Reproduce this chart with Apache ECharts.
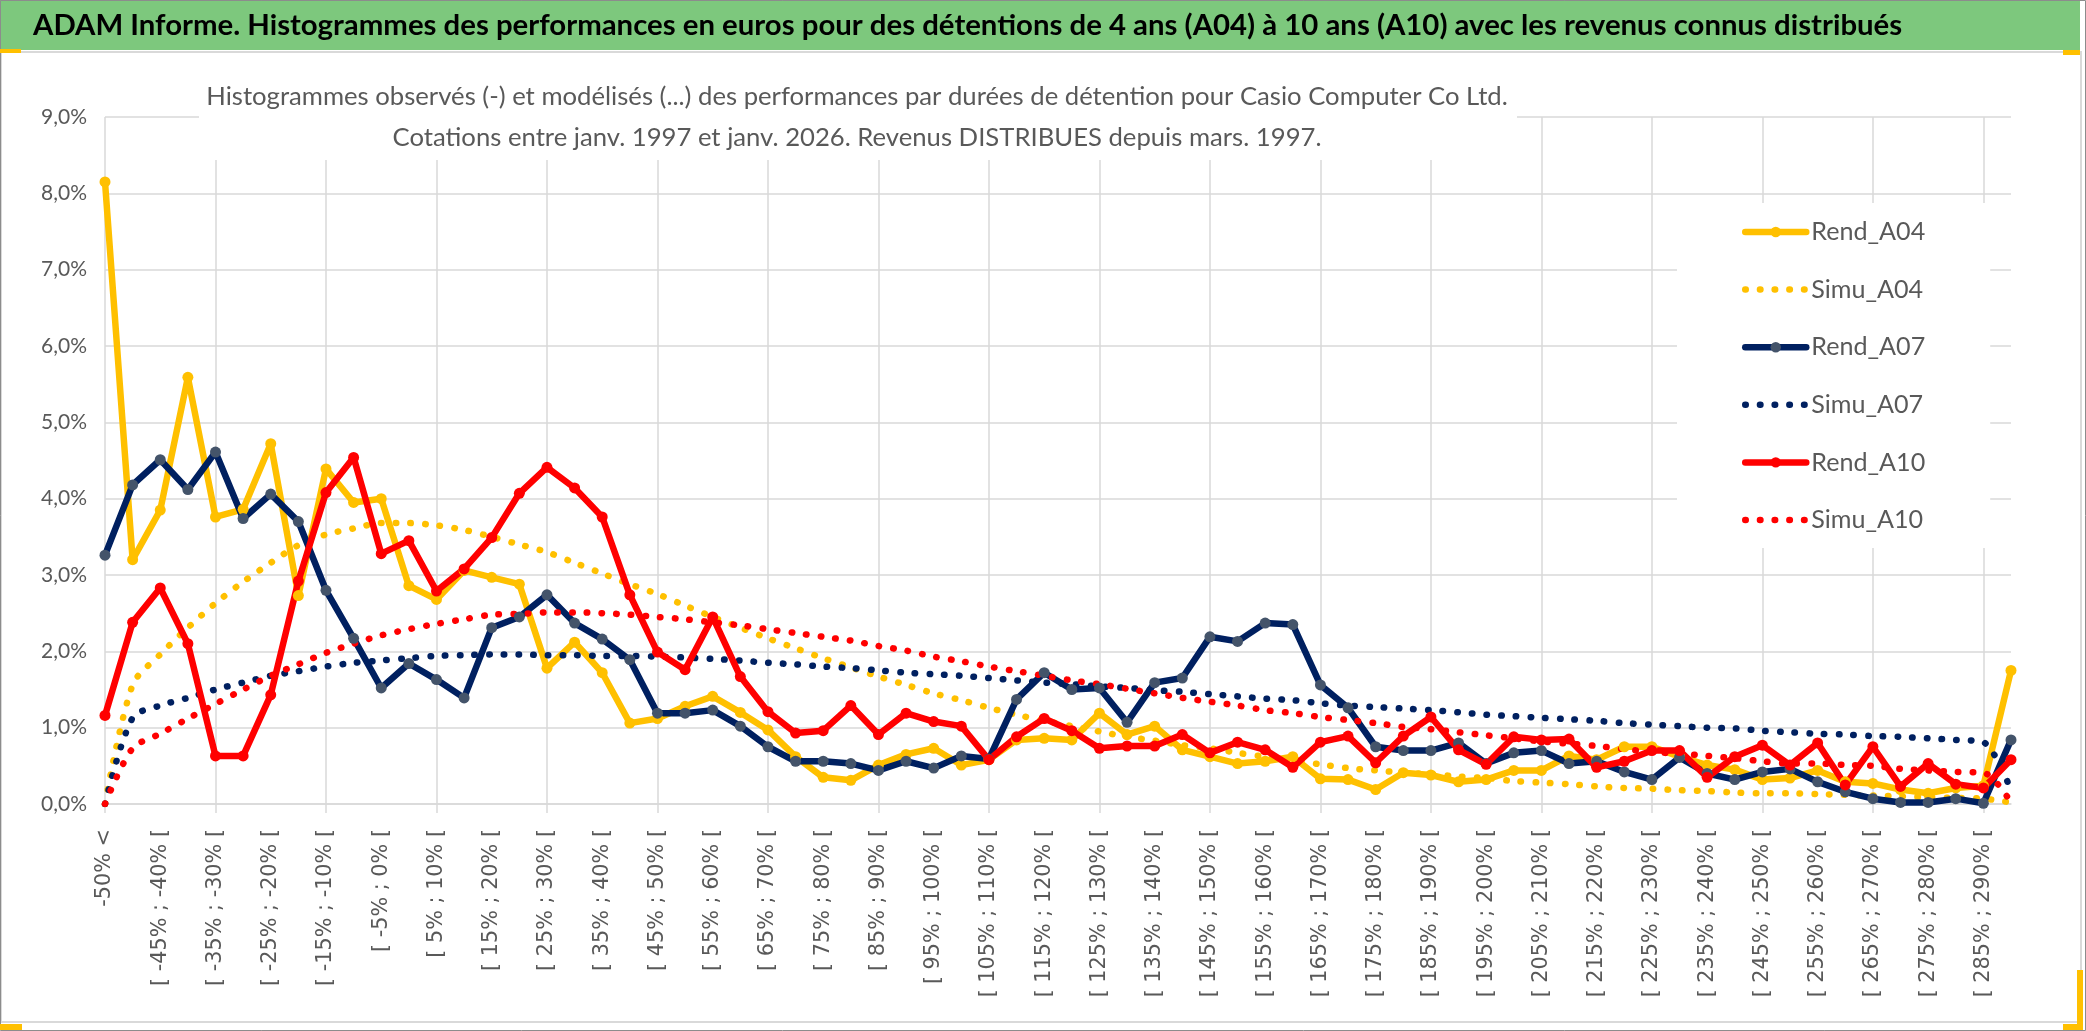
<!DOCTYPE html>
<html>
<head>
<meta charset="utf-8">
<script src="https://cdn.jsdelivr.net/npm/echarts@6/dist/echarts.min.js"></script>
<style>
html,body{margin:0;padding:0;background:#fff;}
#chart{width:2086px;height:1031px;}
</style>
</head>
<body>
<div id="chart"></div>
<script>
const categories = [
"-50% <",
"[ -50% ; -45% [","[ -45% ; -40% [","[ -40% ; -35% [","[ -35% ; -30% [","[ -30% ; -25% [",
"[ -25% ; -20% [","[ -20% ; -15% [","[ -15% ; -10% [","[ -10% ; -5% [","[ -5% ; 0% [",
"[ 0% ; 5% [","[ 5% ; 10% [","[ 10% ; 15% [","[ 15% ; 20% [","[ 20% ; 25% [",
"[ 25% ; 30% [","[ 30% ; 35% [","[ 35% ; 40% [","[ 40% ; 45% [","[ 45% ; 50% [",
"[ 50% ; 55% [","[ 55% ; 60% [","[ 60% ; 65% [","[ 65% ; 70% [","[ 70% ; 75% [",
"[ 75% ; 80% [","[ 80% ; 85% [","[ 85% ; 90% [","[ 90% ; 95% [","[ 95% ; 100% [",
"[ 100% ; 105% [","[ 105% ; 110% [","[ 110% ; 115% [","[ 115% ; 120% [","[ 120% ; 125% [",
"[ 125% ; 130% [","[ 130% ; 135% [","[ 135% ; 140% [","[ 140% ; 145% [","[ 145% ; 150% [",
"[ 150% ; 155% [","[ 155% ; 160% [","[ 160% ; 165% [","[ 165% ; 170% [","[ 170% ; 175% [",
"[ 175% ; 180% [","[ 180% ; 185% [","[ 185% ; 190% [","[ 190% ; 195% [","[ 195% ; 200% [",
"[ 200% ; 205% [","[ 205% ; 210% [","[ 210% ; 215% [","[ 215% ; 220% [","[ 220% ; 225% [",
"[ 225% ; 230% [","[ 230% ; 235% [","[ 235% ; 240% [","[ 240% ; 245% [","[ 245% ; 250% [",
"[ 250% ; 255% [","[ 255% ; 260% [","[ 260% ; 265% [","[ 265% ; 270% [","[ 270% ; 275% [",
"[ 275% ; 280% [","[ 280% ; 285% [","[ 285% ; 290% [",
"> 290%"
];

const yTickLabels = ["0,0%","1,0%","2,0%","3,0%","4,0%","5,0%","6,0%","7,0%","8,0%","9,0%"];

const rendA04 = [8.15,3.20,3.85,5.59,3.76,3.86,4.72,2.73,4.39,3.95,
4.00,2.86,2.68,3.06,2.97,2.88,1.78,2.12,1.72,1.06,
1.12,1.28,1.41,1.20,0.97,0.62,0.35,0.31,0.51,0.65,
0.73,0.51,0.58,0.84,0.86,0.84,1.19,0.91,1.02,0.71,
0.62,0.53,0.56,0.62,0.33,0.32,0.19,0.41,0.38,0.29,
0.32,0.44,0.44,0.63,0.58,0.75,0.75,0.62,0.51,0.45,
0.32,0.34,0.44,0.29,0.27,0.19,0.14,0.21,0.24,1.75];

const simuA04 = [0,1.56,1.96,2.31,2.63,2.91,3.16,3.39,3.53,3.61,
3.68,3.68,3.65,3.59,3.50,3.40,3.30,3.16,3.02,2.88,
2.75,2.60,2.45,2.31,2.17,2.04,1.91,1.79,1.67,1.56,
1.45,1.36,1.26,1.17,1.09,1.02,0.95,0.88,0.83,0.77,
0.73,0.67,0.62,0.57,0.52,0.47,0.44,0.41,0.39,0.36,
0.34,0.30,0.28,0.26,0.23,0.21,0.20,0.18,0.17,0.15,
0.14,0.14,0.13,0.12,0.11,0.10,0.09,0.08,0.07,0.02];

const rendA07 = [3.26,4.18,4.51,4.12,4.61,3.74,4.06,3.70,2.80,2.17,
1.52,1.84,1.63,1.39,2.31,2.45,2.74,2.37,2.16,1.89,
1.19,1.19,1.23,1.02,0.75,0.56,0.56,0.53,0.44,0.56,
0.47,0.63,0.59,1.37,1.72,1.50,1.52,1.07,1.59,1.65,
2.19,2.13,2.37,2.35,1.56,1.26,0.75,0.70,0.70,0.80,
0.53,0.67,0.70,0.53,0.56,0.42,0.32,0.61,0.40,0.32,
0.42,0.46,0.29,0.16,0.07,0.02,0.02,0.07,0.01,0.84];

const simuA07 = [0,1.13,1.29,1.39,1.50,1.59,1.68,1.74,1.80,1.85,
1.88,1.91,1.94,1.95,1.96,1.96,1.95,1.95,1.94,1.94,
1.93,1.92,1.90,1.88,1.85,1.83,1.80,1.78,1.75,1.72,
1.70,1.68,1.65,1.62,1.59,1.57,1.54,1.52,1.49,1.47,
1.44,1.41,1.38,1.36,1.32,1.29,1.27,1.25,1.23,1.20,
1.17,1.15,1.13,1.11,1.09,1.06,1.04,1.02,1.00,0.99,
0.96,0.94,0.92,0.91,0.89,0.88,0.86,0.84,0.81,0.18];

const rendA10 = [1.16,2.38,2.83,2.10,0.63,0.63,1.43,2.92,4.08,4.54,
3.28,3.45,2.79,3.08,3.49,4.07,4.41,4.14,3.76,2.74,
1.99,1.76,2.45,1.67,1.21,0.93,0.96,1.29,0.91,1.19,
1.08,1.02,0.58,0.88,1.12,0.96,0.73,0.76,0.76,0.91,
0.67,0.81,0.71,0.48,0.81,0.89,0.54,0.89,1.14,0.71,
0.52,0.88,0.84,0.85,0.48,0.56,0.70,0.70,0.35,0.62,
0.77,0.51,0.80,0.25,0.75,0.23,0.53,0.26,0.21,0.58];

const simuA10 = [0,0.73,0.92,1.12,1.31,1.50,1.68,1.83,1.98,2.10,
2.21,2.29,2.36,2.42,2.48,2.49,2.51,2.51,2.50,2.48,
2.45,2.42,2.38,2.34,2.29,2.24,2.19,2.14,2.07,2.01,
1.93,1.87,1.80,1.74,1.68,1.62,1.57,1.51,1.45,1.39,
1.34,1.29,1.23,1.19,1.14,1.10,1.06,1.01,0.98,0.94,
0.90,0.86,0.82,0.79,0.76,0.72,0.68,0.66,0.63,0.60,
0.56,0.53,0.53,0.51,0.50,0.46,0.44,0.42,0.41,0.02];

const mainTitle = "ADAM Informe. Histogrammes des performances en euros pour des détentions de 4 ans (A04) à 10 ans (A10) avec les revenus connus distribués";
const subLine1 = "Histogrammes observés (-) et modélisés (...) des performances par durées de détention pour Casio Computer Co Ltd.";
const subLine2 = "Cotations entre janv. 1997 et janv. 2026. Revenus DISTRIBUES depuis mars. 1997.";

const SANS = "Lato, 'Liberation Sans', sans-serif";
const DEJA = "'DejaVu Sans', sans-serif";
const GOLD = '#FFC000', NAVY = '#002060', NAVYM = '#44546A', RED = '#FF0000';
const DOT = [0.5, 14.2];

// fit font sizes to the widths measured on the reference
const mctx = document.createElement('canvas').getContext('2d');
function fit(text, family, weight, target) {
  mctx.font = weight + ' 100px ' + family;
  return 100 * target / mctx.measureText(text).width;
}
const titleSize = fit(mainTitle, SANS, 'bold', 1870);
const subSize = fit(subLine1, SANS, 'normal', 1302);
const legendSize = fit('Rend_A04', SANS, 'normal', 114);
const xLabSize = fit('[ -45% ; -40% [', DEJA, 'normal', 157);
const yLabSize = Math.max(21, fit('0,0%', SANS, 'normal', 40));

function rend(name, data, lineColor, markColor) {
  return {
    name, type: 'line', data,
    symbol: 'circle', symbolSize: 11, showAllSymbol: true,
    lineStyle: { color: lineColor, width: 6.5, cap: 'round', join: 'round' },
    itemStyle: { color: markColor },
    emphasis: { disabled: true }
  };
}
function simu(name, data, color) {
  return {
    name, type: 'line', data, smooth: 0.3,
    symbol: 'none',
    lineStyle: { color, width: 6.5, type: DOT, cap: 'round' },
    itemStyle: { color },
    emphasis: { disabled: true }
  };
}

const chart = echarts.init(document.getElementById('chart'), null, { renderer: 'canvas' });
chart.setOption({
  animation: false,
  backgroundColor: '#ffffff',
  grid: { left: 105, right: 75, top: 117, bottom: 227, containLabel: false },
  xAxis: {
    type: 'category', data: categories, boundaryGap: false,
    axisLine: { show: true, lineStyle: { color: '#D9D9D9', width: 1.5 } },
    axisTick: { show: true, interval: 3, length: 9, lineStyle: { color: '#D9D9D9', width: 1.5 } },
    splitLine: { show: true, interval: 3, lineStyle: { color: '#D9D9D9', width: 1.5 } },
    axisLabel: { interval: 1, rotate: 90, margin: 25, color: '#595959',
      fontFamily: DEJA, fontSize: xLabSize }
  },
  yAxis: {
    type: 'value', min: 0, max: 9, interval: 1,
    axisLine: { show: false }, axisTick: { show: false },
    splitLine: { lineStyle: { color: '#D9D9D9', width: 1.5 } },
    axisLabel: { margin: 18, color: '#595959', fontFamily: SANS, fontSize: yLabSize,
      formatter: (v) => yTickLabels[Math.round(v)] }
  },
  legend: {
    orient: 'vertical', left: 1677, top: 203,
    padding: [14, 65, 13, 65], backgroundColor: '#ffffff',
    itemWidth: 61, itemHeight: 13, itemGap: 27.6,
    lineStyle: { width: 6.5 },
    textStyle: { color: '#595959', fontFamily: SANS, fontSize: legendSize, lineHeight: 30 },
    data: [
      { name: 'Rend_A04' },
      { name: 'Simu_A04', itemStyle: { opacity: 0 } },
      { name: 'Rend_A07' },
      { name: 'Simu_A07', itemStyle: { opacity: 0 } },
      { name: 'Rend_A10' },
      { name: 'Simu_A10', itemStyle: { opacity: 0 } }
    ]
  },
  graphic: [
    { type: 'rect', z: 0, shape: { x: 0, y: 0, width: 2080, height: 50 }, style: { fill: '#7DC87D' } },
    { type: 'text', z: 1, x: 33, y: 26, style: { text: mainTitle, fill: '#000000',
      fontFamily: SANS, fontWeight: 'bold', fontSize: titleSize,
      align: 'left', textAlign: 'left', verticalAlign: 'middle', textVerticalAlign: 'middle' } },
    { type: 'rect', z: 0, shape: { x: 1, y: 52, width: 2080, height: 970 },
      style: { fill: 'none', stroke: '#D9D9D9', lineWidth: 2 } },
    { type: 'rect', z: 0, shape: { x: 0.5, y: 0.5, width: 2085, height: 1030 },
      style: { fill: 'none', stroke: '#8C8C8C', lineWidth: 1 } },
    { type: 'rect', z: 1, shape: { x: 0, y: 49, width: 21, height: 4 }, style: { fill: GOLD } },
    { type: 'rect', z: 1, shape: { x: 2063, y: 50, width: 17, height: 5 }, style: { fill: GOLD } },
    { type: 'rect', z: 1, shape: { x: 0, y: 1024, width: 22, height: 6 }, style: { fill: GOLD } },
    { type: 'rect', z: 1, shape: { x: 2077, y: 970, width: 6, height: 60 }, style: { fill: GOLD } },
    { type: 'rect', z: 1, shape: { x: 2063, y: 1024, width: 20, height: 6 }, style: { fill: GOLD } },
    { type: 'rect', z: 1, shape: { x: 199, y: 64, width: 1318, height: 96 }, style: { fill: '#ffffff' } },
    { type: 'text', z: 1, x: 857, y: 117, style: { text: subLine1 + '\n' + subLine2, fill: '#595959',
      fontFamily: SANS, fontSize: subSize, lineHeight: 41,
      align: 'center', textAlign: 'center', verticalAlign: 'middle', textVerticalAlign: 'middle' } }
  ],
  series: [
    rend('Rend_A04', rendA04, GOLD, GOLD),
    simu('Simu_A04', simuA04, GOLD),
    rend('Rend_A07', rendA07, NAVY, NAVYM),
    simu('Simu_A07', simuA07, NAVY),
    rend('Rend_A10', rendA10, RED, RED),
    simu('Simu_A10', simuA10, RED)
  ]
});
</script>
</body>
</html>
